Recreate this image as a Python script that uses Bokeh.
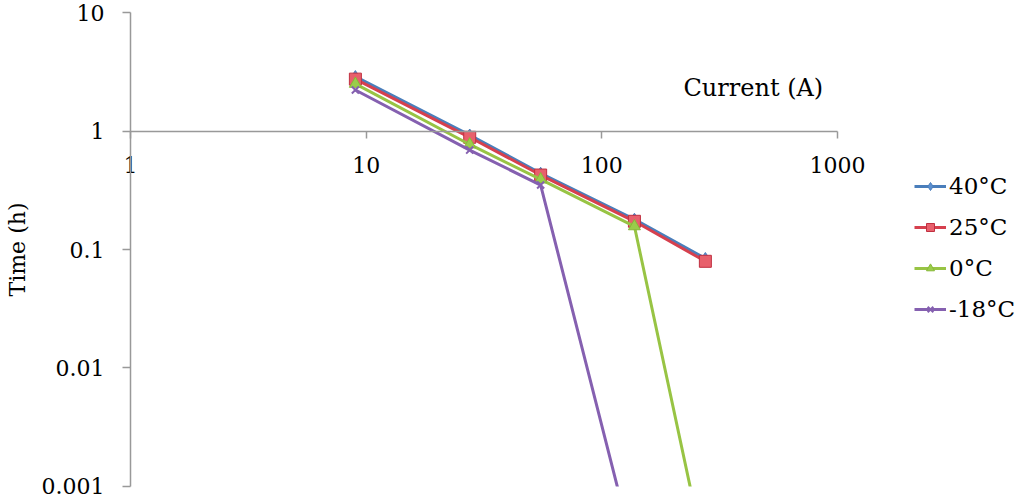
from bokeh.plotting import figure
from bokeh.models import FixedTicker, CustomJSTickFormatter, Label, Legend, LegendItem, BoxAnnotation
from bokeh.embed import file_html
from bokeh.resources import INLINE

# ---- data ----
current = [9.0, 27.5, 55.0, 137.5, 275.0]
current_m18 = [9.0, 27.5, 55.0, 137.5]
time_40 = [2.88, 0.925, 0.44, 0.18, 0.084]
time_25 = [2.74, 0.885, 0.425, 0.173, 0.0795]
time_0 = [2.50, 0.77, 0.39, 0.157, 0.00025]
time_m18 = [2.22, 0.69, 0.35, 0.00027]
x_ticks = [1, 10, 100, 1000]
y_ticks = [0.001, 0.01, 0.1, 1, 10]

FONT = "DejaVu Serif"
W, H = 1022, 501
Y_MIN, Y_MAX = 0.001, 10

# frame fills the whole canvas; axes are drawn at fixed locations (x=1, y=1)
# with bounds, as in the reference where the x axis crosses at Time = 1 h
p = figure(width=W, height=H, x_axis_type="log", y_axis_type="log",
           x_range=(0.2808, 6095), y_range=(0.000747, 12.63),
           output_backend="svg", toolbar_location=None,
           min_border=0, min_border_left=0, min_border_right=0,
           min_border_top=0, min_border_bottom=0)

p.xgrid.visible = False
p.ygrid.visible = False
p.outline_line_color = None
p.background_fill_color = "white"
p.border_fill_color = "white"

fmt = CustomJSTickFormatter(code="return String(tick);")

xa = p.xaxis[0]
xa.fixed_location = 1
xa.bounds = (1, 1000)
xa.ticker = FixedTicker(ticks=x_ticks, minor_ticks=[])
xa.formatter = fmt
xa.axis_line_color = "#999999"
xa.axis_line_width = 1.5
xa.major_tick_line_color = "#999999"
xa.major_tick_line_width = 1.5
xa.major_tick_in = 0
xa.major_tick_out = 7
xa.minor_tick_line_color = None
xa.major_label_standoff = 19
xa.major_label_text_font = FONT
xa.major_label_text_font_size = "22px"
xa.major_label_text_color = "black"

ya = p.yaxis[0]
ya.fixed_location = 1
ya.bounds = (Y_MIN, Y_MAX)
ya.ticker = FixedTicker(ticks=y_ticks, minor_ticks=[])
ya.formatter = fmt
ya.axis_line_color = "#999999"
ya.axis_line_width = 1.5
ya.major_tick_line_color = "#999999"
ya.major_tick_line_width = 1.5
ya.major_tick_in = 0
ya.major_tick_out = 8
ya.minor_tick_line_color = None
ya.major_label_standoff = 18
ya.major_label_text_font = FONT
ya.major_label_text_font_size = "22px"
ya.major_label_text_color = "black"
ya.axis_label = "Time (h)"
ya.axis_label_text_font = FONT
ya.axis_label_text_font_style = "normal"
ya.axis_label_text_font_size = "22px"
ya.axis_label_text_color = "black"
ya.axis_label_standoff = 9

blue = "#4A7EBB"
red = "#D6404E"
green = "#98C444"
purple = "#8560B0"

l40 = p.line(current, time_40, line_color=blue, line_width=3)
m40 = p.scatter(current, time_40, marker="diamond", size=12, fill_color="#5B8FD0", line_color=blue)
l25 = p.line(current, time_25, line_color=red, line_width=3)
m25 = p.scatter(current, time_25, marker="square", size=12, fill_color="#E8606C", line_color="#C03040")
l0 = p.line(current, time_0, line_color=green, line_width=3)
m0 = p.scatter(current, time_0, marker="triangle", size=12, fill_color="#9ACD4A", line_color="#88B838")
lm = p.line(current_m18, time_m18, line_color=purple, line_width=3)
mm = p.scatter(current_m18, time_m18, marker="x", size=10, line_color=purple, line_width=2)

# plot area ends at the axis minimum: hide what falls below it (drawn before the axes)
mask = BoxAnnotation(top=Y_MIN, fill_color="white", fill_alpha=1.0,
                     line_alpha=0, level="glyph")
p.renderers.append(mask)

legend = Legend(items=[
    LegendItem(label="40°C", renderers=[l40, m40]),
    LegendItem(label="25°C", renderers=[l25, m25]),
    LegendItem(label="0°C", renderers=[l0, m0]),
    LegendItem(label="-18°C", renderers=[lm, mm]),
], location=(914, 179))
legend.border_line_color = None
legend.background_fill_alpha = 0
legend.label_text_font = FONT
legend.label_text_font_size = "23px"
legend.label_text_color = "black"
legend.glyph_width = 32
legend.glyph_height = 20
legend.label_height = 20
legend.spacing = 15
legend.label_standoff = 3
legend.padding = 4
legend.margin = 0
p.add_layout(legend)

p.add_layout(Label(x=222, y=2.3, text="Current (A)", text_font=FONT,
                   text_font_size="24px", text_color="black",
                   text_align="left", text_baseline="alphabetic"))

open("out.html", "w").write(file_html(p, INLINE))
